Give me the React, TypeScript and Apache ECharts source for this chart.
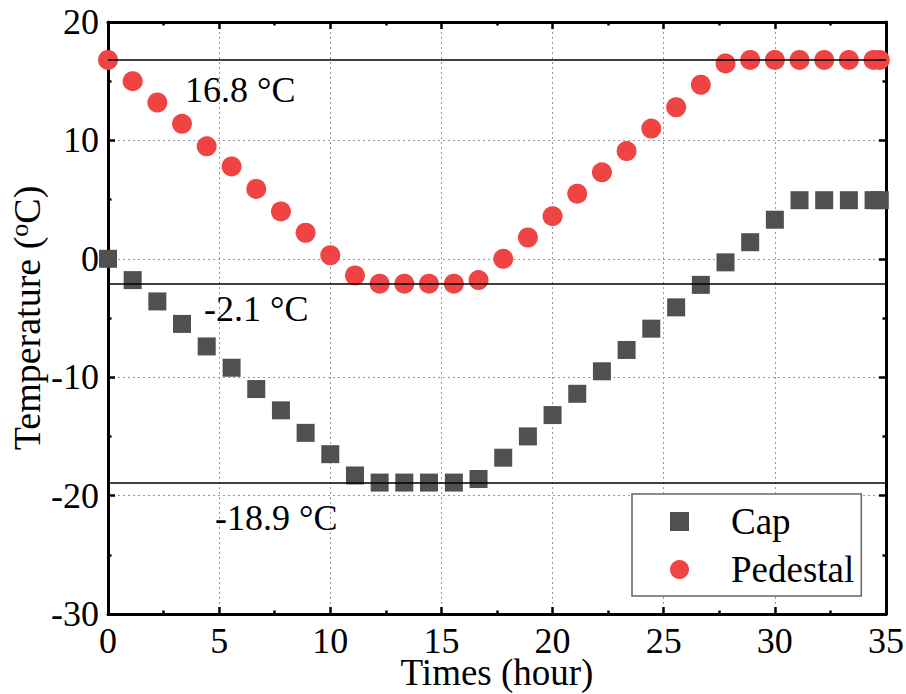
import React, { useEffect, useRef } from "react";
import * as echarts from "echarts";

const times = [0, 1.11, 2.22, 3.33, 4.44, 5.56, 6.67, 7.78, 8.89, 10, 11.11, 12.22, 13.33, 14.44, 15.56, 16.67, 17.78, 18.89, 20, 21.11, 22.22, 23.33, 24.44, 25.56, 26.67, 27.78, 28.89, 30, 31.11, 32.22, 33.33, 34.44, 34.72];
const capValues = [0, -1.8, -3.6, -5.5, -7.4, -9.2, -11.0, -12.8, -14.7, -16.5, -18.3, -18.9, -18.9, -18.9, -18.9, -18.6, -16.8, -15.0, -13.2, -11.4, -9.5, -7.7, -5.9, -4.1, -2.2, -0.3, 1.4, 3.3, 4.95, 4.95, 4.95, 4.95, 4.95];
const pedestalValues = [16.8, 15.0, 13.2, 11.4, 9.5, 7.8, 5.9, 4.0, 2.2, 0.3, -1.4, -2.1, -2.1, -2.1, -2.1, -1.8, 0.0, 1.8, 3.6, 5.5, 7.3, 9.1, 11.0, 12.8, 14.7, 16.5, 16.8, 16.8, 16.8, 16.8, 16.8, 16.8, 16.8];
const refLevels = [16.8, -2.1, -18.9];
const refLabels = ["16.8 °C", "-2.1 °C", "-18.9 °C"];
const seriesNames = ["Cap", "Pedestal"];
const xTitle = "Times (hour)";

const FONT = '"Liberation Serif", "Times New Roman", serif';

export default function App() {
  const ref = useRef<HTMLDivElement>(null);
  useEffect(() => {
    if (!ref.current) return;
    const chart = echarts.init(ref.current, null, { renderer: "svg" });
    const capData = times.map((t, i) => [t, capValues[i]]);
    const pedData = times.map((t, i) => [t, pedestalValues[i]]);
    const labelPos = [
      [185, 90],
      [204, 309],
      [215, 518],
    ];
    const axisCommon = {
      axisLine: { show: true, onZero: false, lineStyle: { color: "#000", width: 3 } },
      axisTick: { show: true, inside: true, length: 7, lineStyle: { color: "#000", width: 2.5 } },
      minorTick: { show: true, splitNumber: 2, length: 3.5, lineStyle: { color: "#000", width: 2.5 } },
    };
    chart.setOption({
      animation: false,
      backgroundColor: "#fff",
      grid: { left: 108, right: 20, top: 22, bottom: 80, containLabel: false, outerBoundsMode: "none" },
      xAxis: [
        {
          type: "value",
          min: 0,
          max: 35,
          interval: 5,
          position: "bottom",
          name: xTitle,
          nameLocation: "middle",
          nameGap: 45,
          nameMoveOverlap: false,
          nameTextStyle: { fontFamily: FONT, fontSize: 37, color: "#000", lineHeight: 26 },
          axisLabel: { fontFamily: FONT, fontSize: 36, color: "#000", margin: 15, lineHeight: 24 },
          splitLine: { show: true, lineStyle: { color: "#999", type: [2, 3], width: 1 } },
          ...axisCommon,
        },
        {
          type: "value",
          min: 0,
          max: 35,
          interval: 5,
          position: "top",
          axisLabel: { show: false },
          splitLine: { show: false },
          ...axisCommon,
        },
      ],
      yAxis: [
        {
          type: "value",
          min: -30,
          max: 20,
          interval: 10,
          position: "left",
          name: "{a|Temperature (}{s|o}{a|C)}",
          nameLocation: "middle",
          nameGap: 62,
          nameMoveOverlap: false,
          nameTextStyle: {
            fontFamily: FONT,
            fontSize: 38,
            color: "#000",
            rich: {
              a: { fontFamily: FONT, fontSize: 38, color: "#000", lineHeight: 40, verticalAlign: "bottom" },
              s: { fontFamily: FONT, fontSize: 26, color: "#000", lineHeight: 40, verticalAlign: "top" },
            },
          },
          axisLabel: { fontFamily: FONT, fontSize: 36, color: "#000", margin: 9, lineHeight: 28 },
          splitLine: { show: true, lineStyle: { color: "#999", type: [2, 3], width: 1 } },
          ...axisCommon,
        },
        {
          type: "value",
          min: -30,
          max: 20,
          interval: 10,
          position: "right",
          axisLabel: { show: false },
          splitLine: { show: false },
          ...axisCommon,
        },
      ],
      legend: {
        data: seriesNames,
        orient: "vertical",
        left: 632,
        top: 494,
        padding: [9, 7, 8, 38],
        itemGap: 11,
        itemWidth: 19,
        itemHeight: 19,
        backgroundColor: "#fff",
        borderColor: "#666",
        borderWidth: 1.5,
        borderRadius: 0,
        textStyle: { fontFamily: FONT, fontSize: 37, color: "#000", lineHeight: 36, padding: [0, 0, 0, 37] },
      },
      series: [
        {
          name: "ref",
          type: "scatter",
          data: [],
          z: 1,
          markLine: {
            silent: true,
            symbol: "none",
            label: { show: false },
            lineStyle: { color: "#000", width: 1.5, type: "solid" },
            data: refLevels.map((v) => ({ yAxis: v })),
          },
        },
        {
          name: seriesNames[0],
          type: "scatter",
          symbol: "rect",
          symbolSize: 18,
          z: 3,
          itemStyle: { color: "#505050", opacity: 1 },
          data: capData,
        },
        {
          name: seriesNames[1],
          type: "scatter",
          symbol: "circle",
          symbolSize: 20,
          z: 4,
          itemStyle: { color: "#f04444", opacity: 1 },
          data: pedData,
        },
      ],
      graphic: refLabels.map((t, i) => ({
        type: "text",
        x: labelPos[i][0],
        y: labelPos[i][1],
        z: 2,
        style: {
          text: t,
          fontFamily: FONT,
          fontSize: 36,
          fill: "#000",
          verticalAlign: "middle",
          align: "left",
        },
      })),
    });
    return () => chart.dispose();
  }, []);
  return (
    <div
      ref={ref}
      style={{ position: "fixed", left: 0, top: 0, width: 906, height: 694 }}
    />
  );
}
